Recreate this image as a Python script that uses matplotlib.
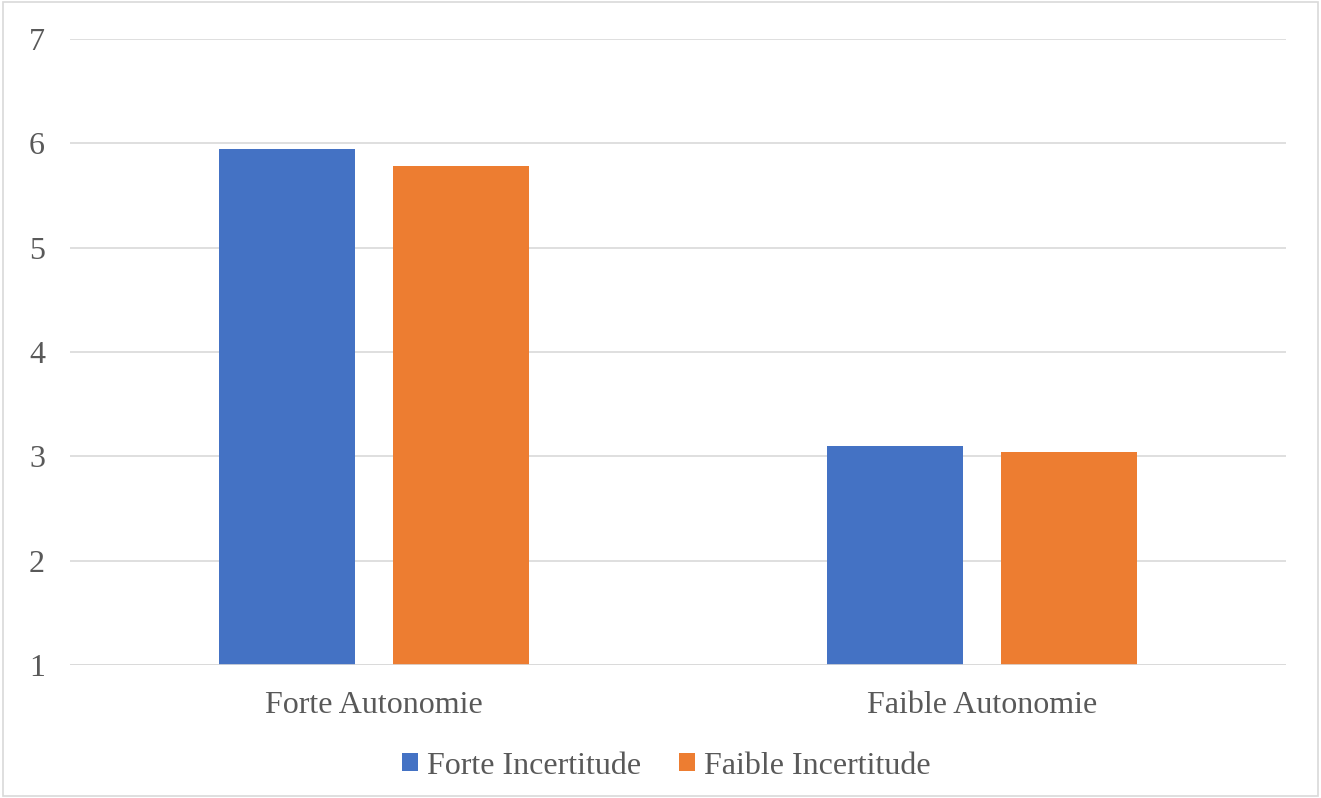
import numpy as np
import matplotlib.pyplot as plt
from matplotlib.patches import Rectangle

categories = ['Forte Autonomie', 'Faible Autonomie']
series_names = ['Forte Incertitude', 'Faible Incertitude']
forte_incertitude = [5.95, 3.10]
faible_incertitude = [5.78, 3.04]
colors = ['#4472C4', '#ED7D31']

plt.rcParams['font.family'] = ['Liberation Serif', 'DejaVu Serif']

fig = plt.figure(figsize=(13.21, 7.98), dpi=100)
ax = fig.add_axes([70 / 1321, 1 - 665 / 798, (1286 - 70) / 1321, (665 - 39) / 798])

x = np.arange(len(categories))
w = 0.224
off = 0.1425
ax.bar(x - off, forte_incertitude, w, bottom=0, color=colors[0], label=series_names[0], zorder=3)
ax.bar(x + off, faible_incertitude, w, bottom=0, color=colors[1], label=series_names[1], zorder=3)

ax.set_xlim(-0.5, 1.5)
ax.set_ylim(1, 7)
ax.set_yticks(range(1, 8))
ax.set_xticks(x)
ax.set_xticklabels(categories)
ax.tick_params(axis='both', length=0, labelsize=23, colors='#595959')
ax.tick_params(axis='x', pad=19)
ax.tick_params(axis='y', pad=18)
ax.grid(axis='y', color='#d9d9d9', linewidth=1.2, zorder=0)
for s in ax.spines.values():
    s.set_visible(False)
ax.axhline(1, color='#d9d9d9', linewidth=1.2, zorder=4)

fig.legend(loc='center', bbox_to_anchor=(0.5 + 6 / 1321, 1 - 766 / 798), ncol=2, frameon=False,
           fontsize=23, handlelength=0.5, handleheight=0.5, handletextpad=0.28,
           columnspacing=1.2, labelcolor='#595959')

fig.patches.append(Rectangle((0.002, 0.002), 0.996, 0.996, transform=fig.transFigure,
                             fill=False, edgecolor='#d9d9d9', linewidth=1.2))

fig.savefig('out.png', dpi=100)
